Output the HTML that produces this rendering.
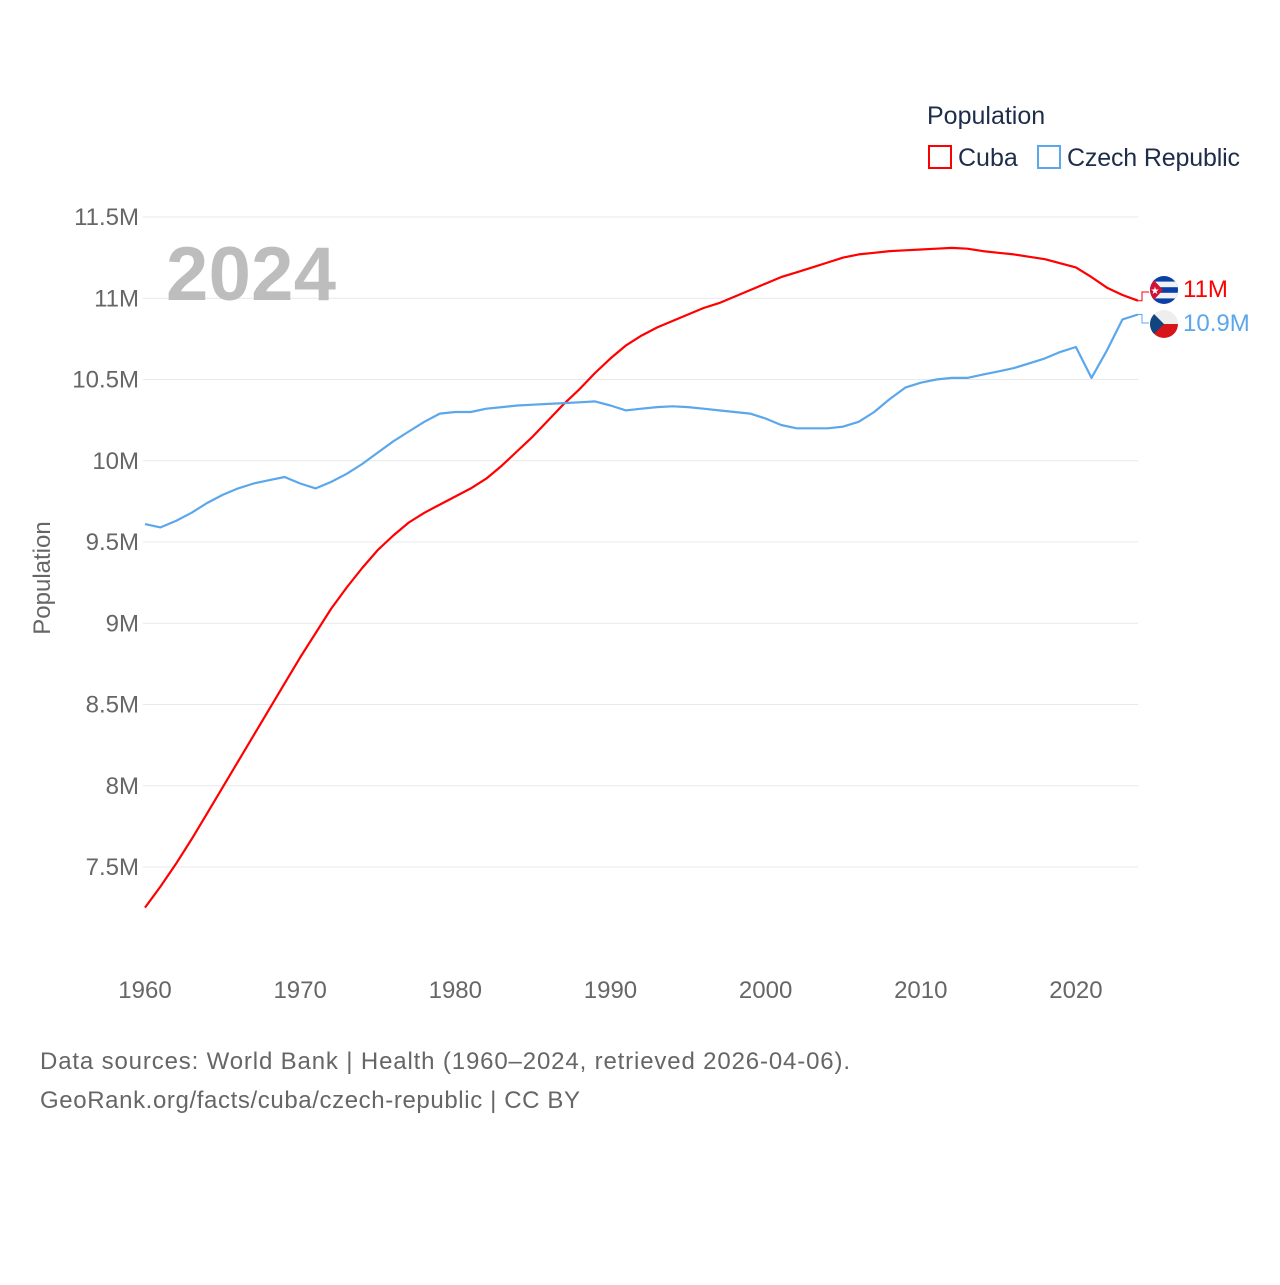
<!DOCTYPE html>
<html><head><meta charset="utf-8"><style>
body{margin:0;background:#fff;}
svg text{font-family:"Liberation Sans",sans-serif;}
</style></head><body>
<svg id="chart" width="1280" height="1280" viewBox="0 0 1280 1280" xmlns="http://www.w3.org/2000/svg">
<g id="grid"></g>
<g id="yticks"></g>
<g id="xticks"></g>
<text x="251" y="300" font-size="76" font-weight="bold" fill="#bdbdbd" text-anchor="middle" textLength="170">2024</text>
<text transform="translate(50,578) rotate(-90)" font-size="24" fill="#666" text-anchor="middle">Population</text>
<g id="series"></g>
<g>
<text x="927" y="124" font-size="25" fill="#1e2d4a">Population</text>
<rect x="929" y="146" width="22" height="22" fill="none" stroke="#ff0000" stroke-width="2"/>
<text x="958" y="166" font-size="25" fill="#1e2d4a">Cuba</text>
<rect x="1038" y="146" width="22" height="22" fill="none" stroke="#5ba7eb" stroke-width="2"/>
<text x="1067" y="166" font-size="25" fill="#1e2d4a" textLength="173">Czech Republic</text>
</g>
<g>
<clipPath id="c1"><circle cx="1164" cy="290" r="14"/></clipPath>
<g clip-path="url(#c1)">
<rect x="1150" y="276" width="28" height="28" fill="#0a3fa8"/>
<rect x="1150" y="281.6" width="28" height="5.6" fill="#f2f2f2"/>
<rect x="1150" y="292.8" width="28" height="5.6" fill="#f2f2f2"/>
<polygon points="1150,276 1163,290 1150,304" fill="#d21034"/>
<text x="1155" y="294" font-size="10" fill="#fff" text-anchor="middle">★</text>
</g></g>
<g>
<clipPath id="c2"><circle cx="1164" cy="324" r="14"/></clipPath>
<g clip-path="url(#c2)">
<rect x="1150" y="310" width="28" height="14" fill="#eeeeee"/>
<rect x="1150" y="324" width="28" height="14" fill="#d7141a"/>
<polygon points="1150,310 1164,324 1150,338" fill="#11457e"/>
</g></g>
<text x="1183" y="297" font-size="24" fill="#ff0000">11M</text>
<text x="1183" y="331" font-size="24" fill="#5ba7eb">10.9M</text>
<text x="40" y="1069" font-size="24" fill="#666" textLength="810">Data sources: World Bank | Health (1960–2024, retrieved 2026-04-06).</text>
<text x="40" y="1108" font-size="24" fill="#666" textLength="540">GeoRank.org/facts/cuba/czech-republic | CC BY</text>
</svg>
<script>
const years = [];
for (let y = 1960; y <= 2024; y++) years.push(y);
const cuba = [7.25,7.38,7.52,7.67,7.83,7.99,8.15,8.31,8.47,8.63,8.79,8.94,9.09,9.22,9.34,9.45,9.54,9.62,9.68,9.73,9.78,9.83,9.89,9.97,10.06,10.15,10.25,10.35,10.44,10.54,10.63,10.71,10.77,10.82,10.86,10.9,10.94,10.97,11.01,11.05,11.09,11.13,11.16,11.19,11.22,11.25,11.27,11.28,11.29,11.295,11.3,11.305,11.31,11.305,11.29,11.28,11.27,11.255,11.24,11.215,11.19,11.13,11.065,11.02,10.985];
const czech = [9.61,9.59,9.63,9.68,9.74,9.79,9.83,9.86,9.88,9.9,9.86,9.83,9.87,9.92,9.98,10.05,10.12,10.18,10.24,10.29,10.3,10.3,10.32,10.33,10.34,10.345,10.35,10.355,10.36,10.365,10.34,10.31,10.32,10.33,10.335,10.33,10.32,10.31,10.3,10.29,10.26,10.22,10.2,10.2,10.2,10.21,10.24,10.3,10.38,10.45,10.48,10.5,10.51,10.51,10.53,10.55,10.57,10.6,10.63,10.67,10.7,10.51,10.68,10.87,10.9];
const yTickVals = [7.5,8,8.5,9,9.5,10,10.5,11,11.5];
const yTickLabels = ["7.5M","8M","8.5M","9M","9.5M","10M","10.5M","11M","11.5M"];
const xTickVals = [1960,1970,1980,1990,2000,2010,2020];

const NS = "http://www.w3.org/2000/svg";
function xs(yr){ return 145 + (yr - 1960) * (1138 - 145) / 64; }
function ys(v){ return 217 + (11.5 - v) * 162.5; }
function mk(tag, attrs, parent){ const e = document.createElementNS(NS, tag); for (const k in attrs) e.setAttribute(k, attrs[k]); parent.appendChild(e); return e; }

const grid = document.getElementById('grid'), yt = document.getElementById('yticks'), xt = document.getElementById('xticks'), ser = document.getElementById('series');
yTickVals.forEach((v, i) => {
  const l = mk('line', {x1:143, x2:1138, y1:ys(v), y2:ys(v), stroke:'#e8e8e8', 'stroke-width':1}, grid);
  
  
  const t = mk('text', {x:139, y:ys(v)+8, 'font-size':24, fill:'#666', 'text-anchor':'end'}, yt);
  t.textContent = yTickLabels[i];
  
  
});
xTickVals.forEach(v => {
  const t = mk('text', {x:xs(v), y:998, 'font-size':24, fill:'#666', 'text-anchor':'middle'}, xt);
  t.textContent = v;
  
  
});
function line(data, color, name){
  const d = data.map((v, i) => (i ? 'L' : 'M') + xs(years[i]).toFixed(1) + ',' + ys(v).toFixed(1)).join(' ');
  const p = mk('path', {d:d, fill:'none', stroke:color, 'stroke-width':2.2, 'stroke-linejoin':'round'}, ser);
  
  
}
line(cuba, '#ff0000', 'cuba-line');
line(czech, '#5ba7eb', 'czech-line');
const lc = cuba[cuba.length-1], lz = czech[czech.length-1];
const c1 = mk('path', {d:`M${xs(2024)},${ys(lc)} L1142,${ys(lc)} L1142,292 L1149,292`, fill:'none', stroke:'#ff0000', 'stroke-width':1}, ser);


const c2 = mk('path', {d:`M${xs(2024)},${ys(lz)} L1142,${ys(lz)} L1142,323 L1149,323`, fill:'none', stroke:'#5ba7eb', 'stroke-width':1}, ser);


</script>
</body></html>
